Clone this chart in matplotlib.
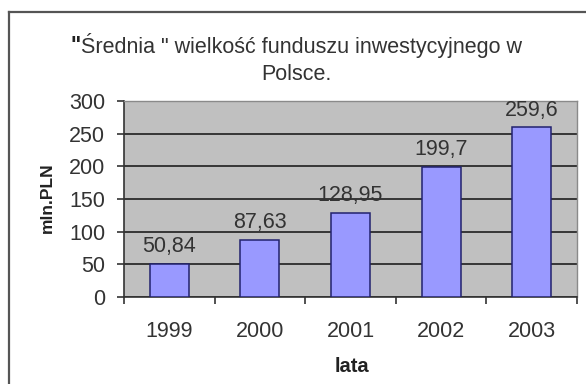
import matplotlib
matplotlib.use("Agg")
import matplotlib.pyplot as plt
from matplotlib.lines import Line2D

# Average investment fund size in Poland, million PLN
years = ["1999", "2000", "2001", "2002", "2003"]
values = [50.84, 87.63, 128.95, 199.7, 259.6]
value_labels = ["50,84", "87,63", "128,95", "199,7", "259,6"]
y_ticks = [0, 50, 100, 150, 200, 250, 300]

title_quote = '"'
title_line1 = 'Średnia " wielkość funduszu inwestycyjnego w'
title_line2 = "Polsce."
x_label = "lata"
y_label = "mln.PLN"

plt.rcParams["font.family"] = ["Liberation Sans", "DejaVu Sans"]
text_color = "#333333"
W, H = 586, 384

fig = plt.figure(figsize=(W / 100, H / 100), dpi=100)
fig.patch.set_facecolor("white")

# outer frame of the chart (left and top edges)
fig.add_artist(Line2D([9 / W, 9 / W], [0, 1 - 12 / H], transform=fig.transFigure,
                      color="#555555", lw=1.6))
fig.add_artist(Line2D([9 / W, 1.0], [1 - 12 / H, 1 - 12 / H], transform=fig.transFigure,
                      color="#555555", lw=1.6))

ax = fig.add_axes([124 / W, 1 - 297 / H, (577 - 124) / W, (297 - 101) / H])
ax.set_facecolor("#C0C0C0")

x = list(range(len(years)))
ax.bar(x, values, width=0.43, color="#9999FF", edgecolor="#22226E",
       linewidth=1.1, zorder=3)

for xi, v, lab in zip(x, values, value_labels):
    ax.annotate(lab, (xi, v), xytext=(0, 8.5), textcoords="offset points",
                ha="center", va="baseline", fontsize=15.5, color=text_color)

ax.set_xlim(-0.5, len(years) - 0.5)
ax.set_ylim(0, 300)
ax.set_yticks(y_ticks)
ax.set_yticklabels([str(t) for t in y_ticks])
ax.yaxis.grid(True, color="#1E1E1E", linewidth=1.2)
ax.set_axisbelow(True)

# category labels centred under bars, tick marks between categories
ax.set_xticks(x)
ax.set_xticklabels(years)
ax.set_xticks([i - 0.5 for i in range(len(years) + 1)], minor=True)
ax.tick_params(axis="x", which="major", length=0, pad=17, labelsize=15.5,
               labelcolor=text_color)
ax.tick_params(axis="x", which="minor", length=5, width=1.2, color="#333333",
               direction="out")
ax.tick_params(axis="y", length=5, width=1.2, color="#333333", direction="out",
               pad=8.5, labelsize=15.5, labelcolor=text_color)

for side in ("left", "bottom"):
    ax.spines[side].set_color("#333333")
    ax.spines[side].set_linewidth(1.2)
for side in ("top", "right"):
    ax.spines[side].set_color("#8A8A8A")
    ax.spines[side].set_linewidth(1.0)

# axis titles
fig.text(352 / W, 1 - 367 / H, x_label, ha="center", va="center", fontsize=14.5,
         fontweight="bold", color="#222222")
fig.text(47 / W, 1 - 198 / H, y_label, ha="center", va="center", rotation=90,
         fontsize=12.5, fontweight="bold", color="#222222")

# chart title: heavy opening quote followed by the regular text
cx = 296 / W
y1 = 1 - 45 / H
q = fig.text(0, y1, title_quote, ha="left", va="center", fontsize=15.5,
             fontweight="bold", color="#222222")
t1 = fig.text(0, y1, title_line1, ha="left", va="center", fontsize=15.5,
              color=text_color)
renderer = fig.canvas.get_renderer()
wq = q.get_window_extent(renderer).width / (W)
w1 = t1.get_window_extent(renderer).width / (W)
left = cx - (wq + w1) / 2
q.set_x(left)
t1.set_x(left + wq)
fig.text(cx, 1 - 75 / H, title_line2, ha="center", va="center", fontsize=15.5,
         color=text_color)

fig.savefig("out.png", dpi=100)
